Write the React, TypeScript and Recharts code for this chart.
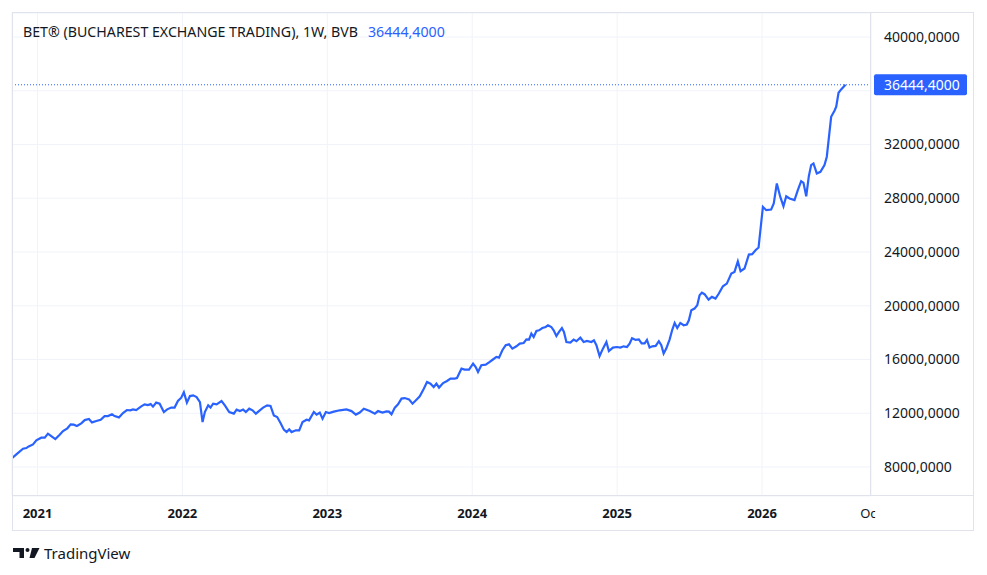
import { LineChart, Line, XAxis, YAxis, CartesianGrid, ReferenceLine } from "recharts"

// weekly closes, time as decimal year
const years = [
  2020.824, 2020.854, 2020.9, 2020.923, 2020.939, 2020.969, 2020.992,
  2021.026, 2021.05, 2021.072, 2021.095, 2021.123, 2021.153, 2021.176, 2021.206, 2021.229, 2021.25,
  2021.272, 2021.302, 2021.326, 2021.355, 2021.376, 2021.406, 2021.436, 2021.463, 2021.486, 2021.514,
  2021.532, 2021.562, 2021.59, 2021.617, 2021.64, 2021.659, 2021.681, 2021.716, 2021.739, 2021.762,
  2021.781, 2021.797, 2021.819, 2021.843, 2021.872, 2021.895, 2021.923, 2021.946, 2021.969, 2021.992,
  2022.01, 2022.031, 2022.052, 2022.074, 2022.098, 2022.121, 2022.139, 2022.155, 2022.178, 2022.194,
  2022.212, 2022.236, 2022.27, 2022.293, 2022.323, 2022.355, 2022.374, 2022.397, 2022.419, 2022.438,
  2022.461, 2022.484, 2022.507, 2022.534, 2022.557, 2022.585, 2022.608, 2022.631, 2022.654, 2022.677,
  2022.7, 2022.719, 2022.737, 2022.753, 2022.783, 2022.806, 2022.829, 2022.857, 2022.874, 2022.907,
  2022.926, 2022.948, 2022.967, 2022.99,
  2023.012, 2023.045, 2023.086, 2023.132, 2023.167, 2023.197, 2023.224, 2023.252, 2023.293, 2023.328,
  2023.35, 2023.381, 2023.408, 2023.426, 2023.443, 2023.466, 2023.488, 2023.512, 2023.534, 2023.564,
  2023.588, 2023.615, 2023.638, 2023.666, 2023.688, 2023.712, 2023.734, 2023.753, 2023.771, 2023.799,
  2023.826, 2023.85, 2023.879, 2023.895, 2023.926, 2023.948, 2023.978,
  2024.006, 2024.024, 2024.04, 2024.063, 2024.093, 2024.121, 2024.143, 2024.167, 2024.185, 2024.208,
  2024.231, 2024.254, 2024.277, 2024.305, 2024.328, 2024.355, 2024.374, 2024.392, 2024.408, 2024.424,
  2024.443, 2024.461, 2024.484, 2024.507, 2024.523, 2024.546, 2024.562, 2024.581, 2024.599, 2024.619,
  2024.633, 2024.65, 2024.677, 2024.7, 2024.719, 2024.746, 2024.769, 2024.792, 2024.822, 2024.84,
  2024.857, 2024.879, 2024.902, 2024.926, 2024.943, 2024.971, 2024.999,
  2025.022, 2025.045, 2025.068, 2025.086, 2025.103, 2025.128, 2025.15, 2025.169, 2025.19, 2025.206,
  2025.224, 2025.243, 2025.266, 2025.288, 2025.305, 2025.321, 2025.339, 2025.362, 2025.381, 2025.397,
  2025.415, 2025.436, 2025.459, 2025.481, 2025.495, 2025.512, 2025.534, 2025.553, 2025.569, 2025.585,
  2025.603, 2025.631, 2025.654, 2025.679, 2025.702, 2025.73, 2025.757, 2025.788, 2025.81, 2025.833,
  2025.852, 2025.879, 2025.909, 2025.932, 2025.955, 2025.976,
  2026.006, 2026.029, 2026.063, 2026.081, 2026.102, 2026.126, 2026.148, 2026.167, 2026.19, 2026.224,
  2026.247, 2026.27, 2026.286, 2026.305, 2026.323, 2026.339, 2026.355, 2026.378, 2026.403, 2026.431,
  2026.447, 2026.477, 2026.5, 2026.512, 2026.528, 2026.546, 2026.576,
]

const closes = [
  8650, 8940, 9360, 9410, 9530, 9680, 9980,
  10180, 10180, 10480, 10300, 10080, 10400, 10670, 10880, 11170, 11150,
  11050, 11250, 11490, 11570, 11320, 11420, 11520, 11790, 11790, 11920,
  11790, 11690, 12010, 12240, 12220, 12290, 12240, 12510, 12660, 12610,
  12680, 12490, 12790, 12710, 12090, 12290, 12420, 12420, 12910, 13160,
  13560, 12790, 13280, 13330, 13200, 12830, 11340, 12090, 12590, 12420,
  12710, 12660, 12910, 12590, 12090, 11970, 12270, 12160, 12270, 12090,
  12340, 12220, 11970, 12220, 12420, 12590, 12540, 11840, 11720, 11270,
  10780, 10600, 10800, 10600, 10730, 10730, 11340, 11520, 11470, 12090,
  11900, 12050, 11600, 12090,
  12020, 12120, 12220, 12290, 12160, 11900, 12050, 12340, 12160, 11970,
  12160, 12050, 12140, 12120, 11920, 12420, 12660, 13090, 13130, 13030,
  12710, 13010, 13260, 13830, 14320, 14200, 13950, 14200, 13910, 14250,
  14400, 14580, 14580, 14620, 15320, 15250, 15250,
  15690, 15440, 15070, 15570, 15620, 15820, 16000, 16190, 16140, 16690,
  17060, 17130, 16810, 16980, 17180, 17230, 17500, 17480, 17930, 17680,
  18120, 18170, 18340, 18420, 18550, 18420, 18170, 17750, 18050, 18340,
  18050, 17300, 17260, 17480, 17360, 17630, 17300, 17380, 17300, 17430,
  17060, 16260, 16810, 17300, 16630, 16890, 16930,
  16890, 16980, 16930, 17180, 17580, 17460, 17490, 17200, 17200, 17460,
  16890, 16980, 17010, 17360, 17060, 16440, 16810, 17480, 18230, 18720,
  18340, 18720, 18550, 18600, 18920, 19660, 19790, 20040, 20780, 20980,
  20860, 20460, 20660, 20540, 20910, 21450, 21650, 22400, 22520, 23310,
  22570, 22770, 23810, 23840, 24130, 24330,
  27360, 27110, 27160, 27610, 29100, 28100, 27410, 28150, 27980, 27860,
  28600, 29270, 29150, 28150, 29640, 30470, 30590, 29850, 29970, 30470,
  31090, 34060, 34510, 34810, 35850, 36100, 36444.4,
]

const timeTicks = [2021, 2022, 2023, 2024, 2025, 2026, 2026.75]
const priceTicks = [8000, 12000, 16000, 20000, 24000, 28000, 32000, 36000, 40000]
const lastClose = 36444.4

const BLUE = "#2962ff"
const TEXT = "#131722"
const BORDER = "#e0e3eb"
const GRID = "#f0f3fa"
const FONT = "'Noto Sans', 'Open Sans', sans-serif"

const data = years.map((t, i) => ({ t, close: closes[i] }))

const fmtPrice = (v: number) => v.toFixed(4).replace(".", ",")
const fmtTime = (v: number) => (Number.isInteger(v) ? String(v) : "Oct")

function TimeTick({ x, y, payload, index }: any) {
  const isYear = Number.isInteger(payload.value)
  const id = `tclip-${index}`
  return (
    <g>
      <defs>
        <clipPath id={id}>
          <rect x={x - 40} y={y - 15} width={44.5} height={30} />
        </clipPath>
      </defs>
      <text
        x={x}
        y={y}
        dy="0.35em"
        textAnchor="middle"
        fill={TEXT}
        fontSize={13}
        fontWeight={isYear ? 700 : 400}
        fontFamily={FONT}
        clipPath={isYear ? undefined : `url(#${id})`}
      >
        {fmtTime(payload.value)}
      </text>
    </g>
  )
}

function PriceTick({ x, y, payload }: any) {
  // the last-price tag covers the scale label next to it
  if (Math.abs(payload.value - lastClose) < 1000) return <g />
  return (
    <text x={x} y={y} dy="0.35em" textAnchor="start" fill={TEXT} fontSize={14} fontFamily={FONT}>
      {fmtPrice(payload.value)}
    </text>
  )
}

function PriceTag({ viewBox }: any) {
  const { x, y, width } = viewBox
  const left = x + width + 3
  return (
    <g>
      <rect x={left} y={y - 10.5} width={93} height={21} rx={2} fill={BLUE} />
      <text x={left + 10} y={y} dy="0.35em" fill="#ffffff" fontSize={14} fontFamily={FONT}>
        {fmtPrice(lastClose)}
      </text>
    </g>
  )
}

function Logo() {
  return (
    <div style={{ position: "absolute", left: 13, top: 543, display: "flex", alignItems: "center", gap: 4 }}>
      <svg width={27} height={12} viewBox="0 0 27 12">
        <path d="M0 1 H11 V11 H6.5 V5 H0 Z" fill={TEXT} />
        <circle cx={14.5} cy={3} r={2} fill={TEXT} />
        <path d="M19 1 H26.5 L21.5 11 H16.5 Z" fill={TEXT} />
      </svg>
      <span style={{ fontFamily: FONT, fontSize: 15, color: TEXT }}>TradingView</span>
    </div>
  )
}

export default function App() {
  return (
    <div style={{ position: "absolute", left: 0, top: 0, width: 987, height: 575, background: "#ffffff" }}>
      <LineChart width={987} height={575} data={data} margin={{ top: 13, right: 13, bottom: 44, left: 12 }}>
        <CartesianGrid stroke={GRID} />
        <XAxis
          dataKey="t"
          type="number"
          domain={[2020.824, 2026.752]}
          allowDataOverflow
          ticks={timeTicks}
          interval={0}
          height={35}
          axisLine={false}
          tickLine={false}
          tickSize={0}
          tickMargin={17}
          tick={<TimeTick />}
        />
        <YAxis
          orientation="right"
          type="number"
          domain={[5842, 41786]}
          allowDataOverflow
          ticks={priceTicks}
          interval={0}
          width={103}
          axisLine={false}
          tickLine={false}
          tickSize={0}
          tickMargin={13}
          tick={<PriceTick />}
        />
        <Line
          type="linear"
          dataKey="close"
          stroke={BLUE}
          strokeWidth={2.2}
          dot={false}
          activeDot={false}
          isAnimationActive={false}
        />
        <ReferenceLine y={lastClose} stroke={BLUE} strokeDasharray="1 2" strokeWidth={1} label={<PriceTag />} />
      </LineChart>

      {/* panel borders */}
      <div style={{ position: "absolute", left: 12, top: 12, width: 960, height: 517, border: `1px solid ${BORDER}` }} />
      <div style={{ position: "absolute", left: 12, top: 495, width: 962, height: 1, background: BORDER }} />
      <div style={{ position: "absolute", left: 870, top: 13, width: 1, height: 482, background: BORDER }} />

      <div
        style={{
          position: "absolute",
          left: 23,
          top: 23,
          fontFamily: FONT,
          fontSize: 14.2,
          lineHeight: "18px",
          color: TEXT,
          whiteSpace: "nowrap",
        }}
      >
        BET® (BUCHAREST EXCHANGE TRADING), 1W, BVB
        <span style={{ color: BLUE, marginLeft: 10 }}>{fmtPrice(lastClose)}</span>
      </div>
      <Logo />
    </div>
  )
}
